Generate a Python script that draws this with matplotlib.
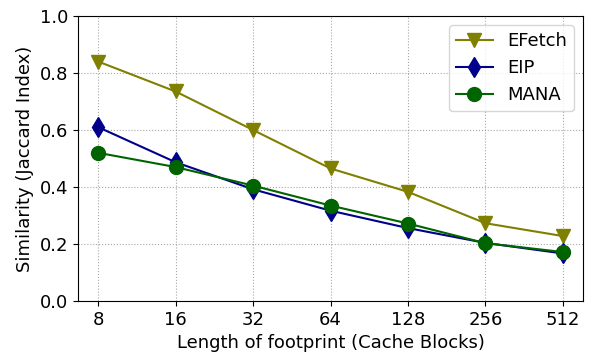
import numpy as np
import matplotlib
matplotlib.use("Agg")
import matplotlib.pyplot as plt

footprint = ["8", "16", "32", "64", "128", "256", "512"]
efetch = [0.84, 0.735, 0.60, 0.465, 0.383, 0.273, 0.228]
eip = [0.61, 0.487, 0.392, 0.317, 0.256, 0.204, 0.167]
mana = [0.52, 0.47, 0.405, 0.335, 0.272, 0.203, 0.172]

fig, ax = plt.subplots(figsize=(5.95, 3.53), dpi=100)
x = np.arange(len(footprint))

ax.plot(x, efetch, color="olive", marker="v", markersize=10, label="EFetch", zorder=3)
ax.plot(x, eip, color="darkblue", marker="d", markersize=10, label="EIP", zorder=3)
ax.plot(x, mana, color="darkgreen", marker="o", markersize=10, label="MANA", zorder=3)

ax.set_xticks(x)
ax.set_xticklabels(footprint)
ax.set_xlim(-0.26, 6.26)
ax.set_ylim(0, 1.0)
ax.set_yticks(np.arange(0, 1.01, 0.2))
ax.tick_params(labelsize=13)
ax.grid(True, linestyle=":", color="gray", alpha=0.7)
ax.set_xlabel("Length of footprint (Cache Blocks)", fontsize=13)
ax.set_ylabel("Similarity (Jaccard Index)", fontsize=13)
ax.legend(fontsize=13, loc="upper right")

fig.subplots_adjust(left=0.131, right=0.98, top=0.955, bottom=0.147)
fig.savefig("out.png")
